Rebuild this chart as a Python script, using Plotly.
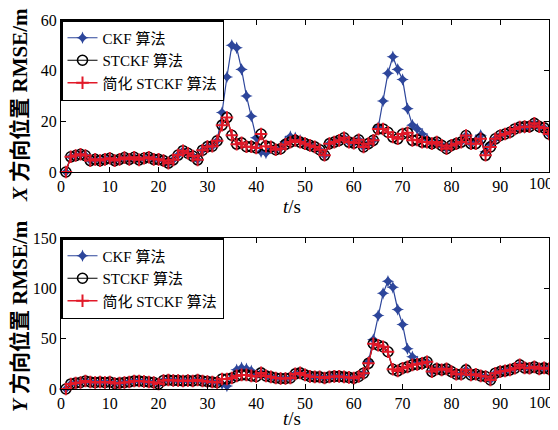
import plotly.graph_objects as go

t = list(range(1, 101))

# X direction RMSE
x_stckf = [0, 6, 6.5, 7, 6.5, 4.5, 5, 4.5, 5, 5.4,
           4.5, 5, 5.7, 5, 5.8, 4.8, 5.4, 5.8, 5, 5,
           4.5, 3.5, 4.8, 6.7, 8.4, 7.4, 6.3, 4.8, 8.6, 10,
           10.2, 12.3, 18.5, 21.5, 14.5, 11, 11.5, 10, 10, 9.5,
           15, 10.2, 9.9, 8.8, 9.2, 10.9, 11.8, 12.5, 11.8, 11.2,
           10.5, 9.9, 8.8, 6.6, 11.2, 11.8, 12.5, 13.5, 11.8, 11.4,
           12.7, 9.9, 11.2, 12.5, 17, 17, 15.7, 13.8, 13.1, 15,
           15.5, 12.5, 12.7, 11.8, 11.8, 11.2, 11.8, 10.5, 9.2, 10.5,
           11.2, 11.8, 14.4, 11.2, 11.2, 13.1, 6.6, 9.9, 13.1, 14.4,
           15, 15.7, 17, 17.7, 17.9, 17.9, 19.2, 17.9, 17.4, 15]
x_simp = [0, 6, 6.5, 7, 6.5, 4.5, 5, 4.5, 5, 5.4,
          4.5, 5, 5.7, 5, 5.8, 4.8, 5.4, 5.8, 5, 5,
          4.5, 3.5, 4.8, 6.7, 8.4, 7.4, 6.3, 4.8, 8.6, 10,
          10.2, 12.3, 18.5, 21.5, 14.5, 11, 11.5, 10, 10, 9.5,
          15, 10.2, 9.9, 8.8, 9.2, 10.9, 11.8, 12.5, 11.8, 11.2,
          10.5, 9.9, 8.8, 6.6, 11.2, 11.8, 12.5, 13.5, 11.8, 11.4,
          12.7, 9.9, 11.2, 12.5, 17, 17, 15.7, 13.8, 13.1, 15,
          15.5, 12.5, 12.7, 11.8, 11.8, 11.2, 11.8, 10.5, 9.2, 10.5,
          11.2, 11.8, 14.4, 11.2, 11.2, 13.1, 6.6, 9.9, 13.1, 14.4,
          15, 15.7, 17, 17.7, 17.9, 17.9, 19.2, 17.9, 17.4, 15]
x_ckf = [0, 6, 6.5, 7, 6.5, 4.5, 5, 4.5, 5, 5.4,
         4.5, 5, 5.7, 5, 5.8, 4.8, 5.4, 5.8, 5, 5,
         4.5, 3.5, 4.8, 6.7, 8.4, 7.4, 6.3, 4.8, 8.6, 10,
         10.2, 12.3, 23.5, 37.5, 50, 49, 40.5, 30, 22, 13.5,
         8, 7.5, 9.5, 8.8, 9.5, 12, 14, 13.5, 12.5, 11.2,
         10.5, 9.9, 8.8, 6.6, 11.2, 11.8, 12.5, 13.5, 11.8, 11.4,
         12.7, 9.9, 11.2, 12.5, 17.5, 28, 39, 45.5, 40.5, 36.5,
         25, 18.5, 17, 15, 13, 11.2, 11.8, 10.5, 9.2, 10.5,
         11.2, 11.8, 14.4, 11.2, 12.5, 14.5, 8, 11, 13.1, 14.4,
         15, 15.7, 17, 17.7, 17.5, 17.9, 19.2, 17.9, 17.4, 15]

# Y direction RMSE
y_stckf = [0, 5, 6, 6.5, 8, 7, 6.5, 7, 6.5, 7,
           5.5, 6, 6.5, 7, 8, 8, 7.5, 7, 6.5, 5,
           8.5, 9, 8.5, 8.5, 8, 8.5, 8, 9, 8, 7.5,
           7, 6.5, 10, 10, 11, 13, 14, 14, 13, 12.5,
           16, 13, 12, 11, 10.5, 10.5, 11, 15, 16, 14,
           12.5, 12, 12, 11, 12, 12.5, 12.5, 12, 11.5, 10.8,
           12.4, 15.7, 25.5, 45, 43.5, 42, 37, 19.6, 18, 20.6,
           22, 24, 24.5, 25.5, 27, 17.3, 20, 19, 20, 17.3,
           14.7, 14.7, 19, 14, 14.7, 13, 12.4, 9, 15.7, 17.3,
           18, 19, 20.6, 24, 21, 20.6, 22, 20, 21, 20]
y_simp = [0, 5, 6, 6.5, 8, 7, 6.5, 7, 6.5, 7,
          5.5, 6, 6.5, 7, 8, 8, 7.5, 7, 6.5, 5,
          8.5, 9, 8.5, 8.5, 8, 8.5, 8, 9, 8, 7.5,
          7, 6.5, 10, 10, 11, 13, 14, 14, 13, 12.5,
          16, 13, 12, 11, 10.5, 10.5, 11, 15, 16, 14,
          12.5, 12, 12, 11, 12, 12.5, 12.5, 12, 11.5, 10.8,
          12.4, 15.7, 25.5, 45, 43.5, 42, 37, 19.6, 18, 20.6,
          22, 24, 24.5, 25.5, 27, 17.3, 20, 19, 20, 17.3,
          14.7, 14.7, 19, 14, 14.7, 13, 12.4, 9, 15.7, 17.3,
          18, 19, 20.6, 24, 21, 20.6, 22, 20, 21, 20]
y_ckf = [0, 5, 6, 6.5, 8, 7, 6.5, 7, 6.5, 7,
         5.5, 6, 6.5, 7, 8, 8, 7.5, 7, 6.5, 5,
         8.5, 9, 8.5, 8.5, 8, 8.5, 8, 9, 8, 7.5,
         7, 6.5, 5, 3, 11, 19, 21, 20, 18, 14,
         16, 13, 12, 11, 10.5, 10.5, 11, 15, 16, 14,
         12.5, 12, 12, 11, 12, 12.5, 12.5, 12, 11.5, 10.8,
         12.4, 15.7, 27, 49, 73, 95, 107, 101, 79, 64,
         40, 32, 27, 26, 27, 17.3, 20, 19, 20, 17.3,
         14.7, 14.7, 19, 14, 14.7, 13, 12.4, 9, 15.7, 17.3,
         18, 19, 20.6, 24, 21, 20.6, 22, 20, 21, 20]

names = ["CKF 算法", "STCKF 算法", "简化 STCKF 算法"]
x_ticks = [0, 10, 20, 30, 40, 50, 60, 70, 80, 90, 100]
x_ticktext = ["0", "10", "20", "30", "40", "50", "60", "70", "80", "90", ""]
last_x_label = "100"
top_yticks = [0, 20, 40, 60]
bot_yticks = [0, 50, 100, 150]

BLUE = "rgb(45,70,155)"
RED = "rgb(225,25,40)"
FONT = "Liberation Serif, Noto Sans CJK SC"

fig = go.Figure()

def add_set(ckf, st, simp, xa, ya, leg):
    fig.add_trace(go.Scatter(x=t, y=ckf, name=names[0], mode="lines+markers",
                             line=dict(color=BLUE, width=1.2),
                             marker=dict(symbol="star-diamond", size=9, color=BLUE),
                             xaxis=xa, yaxis=ya, legend=leg, cliponaxis=False))
    fig.add_trace(go.Scatter(x=t, y=st, name=names[1], mode="lines+markers",
                             line=dict(color="black", width=1.2),
                             marker=dict(symbol="circle-open", size=10, color="black",
                                         line=dict(width=1.6)),
                             xaxis=xa, yaxis=ya, legend=leg, cliponaxis=False))
    fig.add_trace(go.Scatter(x=t, y=simp, name=names[2], mode="lines+markers",
                             line=dict(color=RED, width=1.4),
                             marker=dict(symbol="cross-thin-open", size=9, color=RED,
                                         line=dict(width=2, color=RED)),
                             xaxis=xa, yaxis=ya, legend=leg, cliponaxis=False))

add_set(x_ckf, x_stckf, x_simp, "x", "y", "legend")
add_set(y_ckf, y_stckf, y_simp, "x2", "y2", "legend2")

# page has an 8px body margin; lay out in page pixels and shift
OFF = 8
W, H = 558 - OFF, 430 - OFF

def px(x):
    return (x - OFF) / W

def py(y):
    return 1 - (y - OFF) / H

xd = [px(61), px(549)]
axis_common = dict(showline=True, linecolor="black", linewidth=1, mirror="ticks",
                   ticks="inside", ticklen=5, tickcolor="black", showgrid=False,
                   zeroline=False, automargin=False, ticklabeloverflow="allow",
                   tickfont=dict(family=FONT, size=16, color="black"))

legend_common = dict(x=xd[0], xanchor="left", yanchor="top",
                     bordercolor="black", borderwidth=1.5, bgcolor="white",
                     font=dict(family=FONT, size=15, color="black"),
                     tracegroupgap=0, itemwidth=30)

fig.update_layout(
    width=W, height=H,
    margin=dict(l=0, r=0, t=0, b=0, autoexpand=False),
    paper_bgcolor="white", plot_bgcolor="white",
    font=dict(family=FONT, color="black"),
    xaxis=dict(domain=xd, range=[0, 100], tickvals=x_ticks, ticktext=x_ticktext,
               anchor="y", **axis_common),
    yaxis=dict(domain=[py(172), py(20)], range=[0, 60], tickvals=top_yticks,
               anchor="x", **axis_common),
    xaxis2=dict(domain=xd, range=[0, 100], tickvals=x_ticks, ticktext=x_ticktext,
                anchor="y2", **axis_common),
    yaxis2=dict(domain=[py(389), py(238)], range=[0, 150], tickvals=bot_yticks,
                anchor="x2", **axis_common),
    legend=dict(y=py(20), **legend_common),
    legend2=dict(y=py(238), **legend_common),
    showlegend=True,
)

tick_font = dict(family=FONT, size=16, color="black")
for yy in (183, 402):
    fig.add_annotation(text=last_x_label, x=px(541), y=py(yy), xref="paper", yref="paper",
                       showarrow=False, xanchor="center", yanchor="middle", font=tick_font)

ann_font = dict(family=FONT, size=21, color="black")
fig.add_annotation(text="<b><i>X</i> 方向位置 RMSE/m</b>", x=px(20), y=py(105),
                   xref="paper", yref="paper", textangle=-90, showarrow=False,
                   xanchor="center", yanchor="middle", font=ann_font)
fig.add_annotation(text="<b><i>Y</i> 方向位置 RMSE/m</b>", x=px(20), y=py(316),
                   xref="paper", yref="paper", textangle=-90, showarrow=False,
                   xanchor="center", yanchor="middle", font=ann_font)
fig.add_annotation(text="<i>t</i>/s", x=px(292), y=py(207),
                   xref="paper", yref="paper", showarrow=False,
                   xanchor="center", yanchor="middle", font=dict(family=FONT, size=19))
fig.add_annotation(text="<i>t</i>/s", x=px(292), y=py(418),
                   xref="paper", yref="paper", showarrow=False,
                   xanchor="center", yanchor="middle", font=dict(family=FONT, size=19))

fig.write_html("out.html")
